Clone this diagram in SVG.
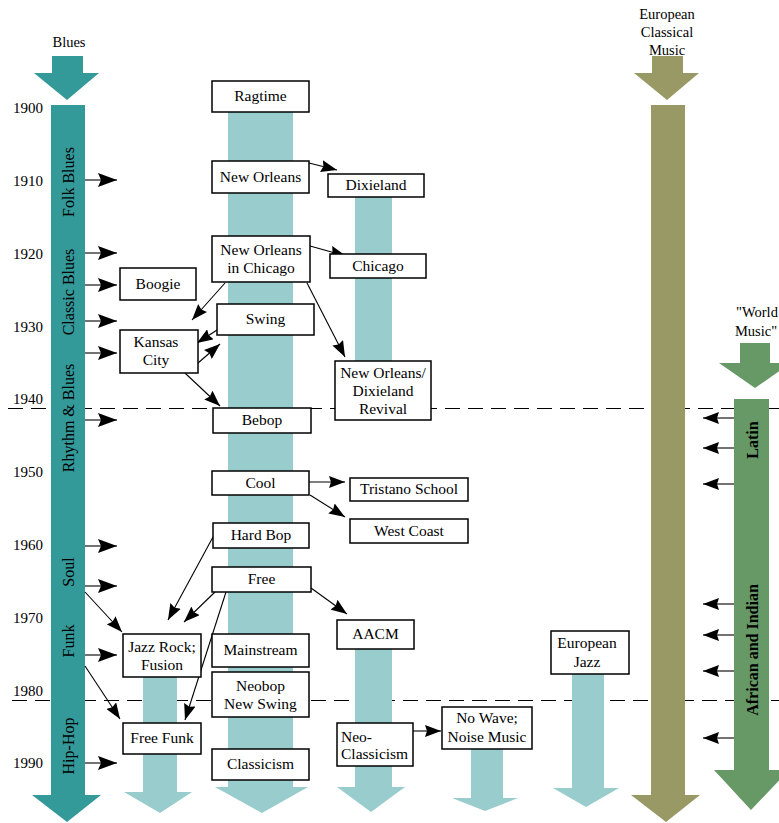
<svg xmlns="http://www.w3.org/2000/svg" width="779" height="823" viewBox="0 0 779 823">
<style>
.box{fill:#fff;stroke:#000;stroke-width:1.5}
.t{font-family:"Liberation Serif","Times New Roman",serif;font-size:15.5px;fill:#000;text-anchor:middle}
.yr{font-family:"Liberation Serif","Times New Roman",serif;font-size:15px;fill:#000}
.vt{font-family:"Liberation Serif","Times New Roman",serif;font-size:16px;fill:#000;text-anchor:middle}
.vb{font-family:"Liberation Serif","Times New Roman",serif;font-size:16px;font-weight:bold;fill:#000;text-anchor:middle}
.lb{font-family:"Liberation Serif","Times New Roman",serif;font-size:14.5px;fill:#000;text-anchor:middle}
.dash{stroke:#000;stroke-width:1;stroke-dasharray:15 8;fill:none;shape-rendering:crispEdges}
.blues{fill:#339999}
.light{fill:#99CCCC}
.olive{fill:#999966}
.green{fill:#669966}
.c{stroke:#000;stroke-width:1.1;fill:none}
</style>
<defs>
<marker id="ah" markerUnits="userSpaceOnUse" markerWidth="20" markerHeight="14" refX="19" refY="7" orient="auto"><path d="M0,0 L19,7 L0,14 L3,7 z" fill="#000"/></marker>
<marker id="as" markerUnits="userSpaceOnUse" markerWidth="17" markerHeight="12" refX="16" refY="6" orient="auto"><path d="M0,0 L16,6 L0,12 L2,6 z" fill="#000"/></marker>
</defs>

<g id="gridlines">
<line class="dash" x1="8" y1="408.5" x2="779" y2="408.5"/>
<line class="dash" x1="12" y1="700.5" x2="779" y2="700.5"/>
</g>

<g id="years">
<text class="yr" x="13" y="113">1900</text>
<text class="yr" x="13" y="186">1910</text>
<text class="yr" x="13" y="259">1920</text>
<text class="yr" x="13" y="332">1930</text>
<text class="yr" x="13" y="404">1940</text>
<text class="yr" x="13" y="477">1950</text>
<text class="yr" x="13" y="550">1960</text>
<text class="yr" x="13" y="623">1970</text>
<text class="yr" x="13" y="696">1980</text>
<text class="yr" x="13" y="768">1990</text>
</g>

<g id="blues">
<text class="lb" x="69" y="47">Blues</text>
<polygon class="blues" points="52,56 83,56 83,73 99,73 67,100 34,73 52,73"/>
<polygon class="blues" points="51,105 85,105 85,795 101,795 67,822 32,795 51,795"/>
<text class="vt" transform="translate(73.5,182) rotate(-90)">Folk Blues</text>
<text class="vt" transform="translate(73.5,292) rotate(-90)">Classic Blues</text>
<text class="vt" transform="translate(73.5,418) rotate(-90)">Rhythm &amp; Blues</text>
<text class="vt" transform="translate(73.5,572) rotate(-90)">Soul</text>
<text class="vt" transform="translate(73.5,641) rotate(-90)">Funk</text>
<text class="vt" transform="translate(73.5,746) rotate(-90)">Hip-Hop</text>
</g>

<g id="european-classical">
<text class="lb" x="667" y="19">European</text>
<text class="lb" x="667" y="37">Classical</text>
<text class="lb" x="667" y="55">Music</text>
<polygon class="olive" points="652,56 683,56 683,73 699,73 667,100 634,73 652,73"/>
<polygon class="olive" points="651,105 685,105 685,795 700,795 666,822 631,795 651,795"/>
</g>

<g id="world-music">
<text class="lb" x="757" y="317">"World</text>
<text class="lb" x="756" y="336">Music"</text>
<polygon class="green" points="740,343 770,343 770,363 791,363 755,388 719,363 740,363"/>
<polygon class="green" points="734,399 769,399 769,770 789,770 751,810 714,770 734,770"/>
<text class="vb" transform="translate(757.5,440) rotate(-90)">Latin</text>
<text class="vb" transform="translate(757.5,650) rotate(-90)">African and Indian</text>
</g>

<g id="columns">
<polygon class="light" points="228,112 293,112 293,787 308,787 262,813 215,787 228,787"/>
<rect class="light" x="355" y="197" width="37" height="223"/>
<polygon class="light" points="355,649 392,649 392,787 405,787 371,812 337,787 355,787"/>
<polygon class="light" points="143,677 177,677 177,792 192,792 160,813 124,792 143,792"/>
<polygon class="light" points="471,749 503,749 503,798 518,798 485,811 452,798 471,798"/>
<polygon class="light" points="572,674 604,674 604,788 619,788 586,807 553,788 572,788"/>
</g>

<g id="connectors">
<line class="c" x1="85" y1="180" x2="117" y2="180" marker-end="url(#ah)"/>
<line class="c" x1="85" y1="253" x2="117" y2="253" marker-end="url(#ah)"/>
<line class="c" x1="85" y1="285" x2="117" y2="285" marker-end="url(#ah)"/>
<line class="c" x1="85" y1="321" x2="117" y2="321" marker-end="url(#ah)"/>
<line class="c" x1="85" y1="353" x2="117" y2="353" marker-end="url(#ah)"/>
<line class="c" x1="85" y1="420" x2="117" y2="420" marker-end="url(#ah)"/>
<line class="c" x1="85" y1="546" x2="117" y2="546" marker-end="url(#ah)"/>
<line class="c" x1="85" y1="586" x2="117" y2="586" marker-end="url(#ah)"/>
<line class="c" x1="85" y1="655" x2="117" y2="655" marker-end="url(#ah)"/>
<line class="c" x1="85" y1="763" x2="117" y2="763" marker-end="url(#ah)"/>
<line class="c" x1="734" y1="418" x2="703" y2="418" marker-end="url(#as)"/>
<line class="c" x1="734" y1="448" x2="703" y2="448" marker-end="url(#as)"/>
<line class="c" x1="734" y1="484" x2="703" y2="484" marker-end="url(#as)"/>
<line class="c" x1="734" y1="604" x2="703" y2="604" marker-end="url(#as)"/>
<line class="c" x1="734" y1="635" x2="703" y2="635" marker-end="url(#as)"/>
<line class="c" x1="734" y1="671" x2="703" y2="671" marker-end="url(#as)"/>
<line class="c" x1="734" y1="738" x2="703" y2="738" marker-end="url(#as)"/>
<line class="c" x1="309" y1="163" x2="337" y2="170" marker-end="url(#as)"/>
<line class="c" x1="310" y1="246" x2="346" y2="256" marker-end="url(#as)"/>
<line class="c" x1="307" y1="283" x2="345" y2="357" marker-end="url(#as)"/>
<line class="c" x1="225" y1="283" x2="192" y2="320" marker-end="url(#as)"/>
<line class="c" x1="217" y1="330" x2="197" y2="343" marker-end="url(#as)"/>
<line class="c" x1="198" y1="363" x2="220" y2="344" marker-end="url(#as)"/>
<line class="c" x1="185" y1="373" x2="220" y2="406" marker-end="url(#as)"/>
<line class="c" x1="309" y1="482" x2="345" y2="482" marker-end="url(#as)"/>
<line class="c" x1="310" y1="495" x2="345" y2="517" marker-end="url(#as)"/>
<line class="c" x1="213" y1="537" x2="168" y2="620" marker-end="url(#as)"/>
<line class="c" x1="215" y1="592" x2="184" y2="622" marker-end="url(#as)"/>
<line class="c" x1="226" y1="592" x2="185" y2="720" marker-end="url(#as)"/>
<line class="c" x1="311" y1="588" x2="347" y2="614" marker-end="url(#as)"/>
<line class="c" x1="85" y1="592" x2="122" y2="632" marker-end="url(#as)"/>
<line class="c" x1="85" y1="666" x2="120" y2="719" marker-end="url(#as)"/>
<line class="c" x1="413" y1="731" x2="441" y2="731" marker-end="url(#as)"/>
</g>

<g id="ragtime"><rect class="box" x="212" y="81" width="97" height="31"/><text class="t" x="260.5" y="101">Ragtime</text></g>
<g id="new-orleans"><rect class="box" x="212" y="161" width="97" height="32"/><text class="t" x="260.5" y="182">New Orleans</text></g>
<g id="dixieland"><rect class="box" x="328" y="174" width="96" height="23"/><text class="t" x="376" y="190">Dixieland</text></g>
<g id="new-orleans-chicago"><rect class="box" x="212" y="236" width="98" height="46"/><text class="t" x="261" y="255">New Orleans</text><text class="t" x="261" y="273">in Chicago</text></g>
<g id="chicago"><rect class="box" x="330" y="254" width="96" height="24"/><text class="t" x="378" y="271">Chicago</text></g>
<g id="boogie"><rect class="box" x="120" y="268" width="76" height="32"/><text class="t" x="158" y="289">Boogie</text></g>
<g id="swing"><rect class="box" x="217" y="304" width="97" height="31"/><text class="t" x="265.5" y="324">Swing</text></g>
<g id="kansas-city"><rect class="box" x="120" y="330" width="78" height="43"/><text class="t" x="156" y="347">Kansas</text><text class="t" x="156" y="365">City</text></g>
<g id="revival"><rect class="box" x="335" y="361" width="96" height="59"/><text class="t" x="383" y="378">New Orleans/</text><text class="t" x="383" y="396">Dixieland</text><text class="t" x="383" y="414">Revival</text></g>
<g id="bebop"><rect class="box" x="213" y="408" width="98" height="25"/><text class="t" x="262" y="425">Bebop</text></g>
<g id="cool"><rect class="box" x="212" y="471" width="97" height="24"/><text class="t" x="260.5" y="488">Cool</text></g>
<g id="tristano"><rect class="box" x="350" y="478" width="118" height="23"/><text class="t" x="409" y="494">Tristano School</text></g>
<g id="west-coast"><rect class="box" x="350" y="519" width="118" height="24"/><text class="t" x="409" y="536">West Coast</text></g>
<g id="hard-bop"><rect class="box" x="213" y="523" width="96" height="25"/><text class="t" x="261" y="540">Hard Bop</text></g>
<g id="free"><rect class="box" x="212" y="567" width="99" height="25"/><text class="t" x="261.5" y="584">Free</text></g>
<g id="aacm"><rect class="box" x="337" y="620" width="77" height="29"/><text class="t" x="375.5" y="639">AACM</text></g>
<g id="jazz-rock"><rect class="box" x="123" y="634" width="78" height="43"/><text class="t" x="162" y="652">Jazz Rock;</text><text class="t" x="162" y="670">Fusion</text></g>
<g id="mainstream"><rect class="box" x="212" y="634" width="97" height="33"/><text class="t" x="260.5" y="655">Mainstream</text></g>
<g id="neobop"><rect class="box" x="212" y="672" width="97" height="45"/><text class="t" x="260.5" y="691">Neobop</text><text class="t" x="260.5" y="709">New Swing</text></g>
<g id="european-jazz"><rect class="box" x="551" y="631" width="78" height="43"/><text class="t" x="587" y="648">European</text><text class="t" x="587" y="667">Jazz</text></g>
<g id="no-wave"><rect class="box" x="442" y="707" width="90" height="42"/><text class="t" x="487" y="723">No Wave;</text><text class="t" x="487" y="742">Noise Music</text></g>
<g id="free-funk"><rect class="box" x="123" y="723" width="78" height="31"/><text class="t" x="162" y="743">Free Funk</text></g>
<g id="neo-classicism"><rect class="box" x="337" y="723" width="76" height="43"/><text class="t" x="341" y="742" style="text-anchor:start">Neo-</text><text class="t" x="341" y="759" style="text-anchor:start">Classicism</text></g>
<g id="classicism"><rect class="box" x="212" y="749" width="97" height="31"/><text class="t" x="260.5" y="769">Classicism</text></g>
</svg>
